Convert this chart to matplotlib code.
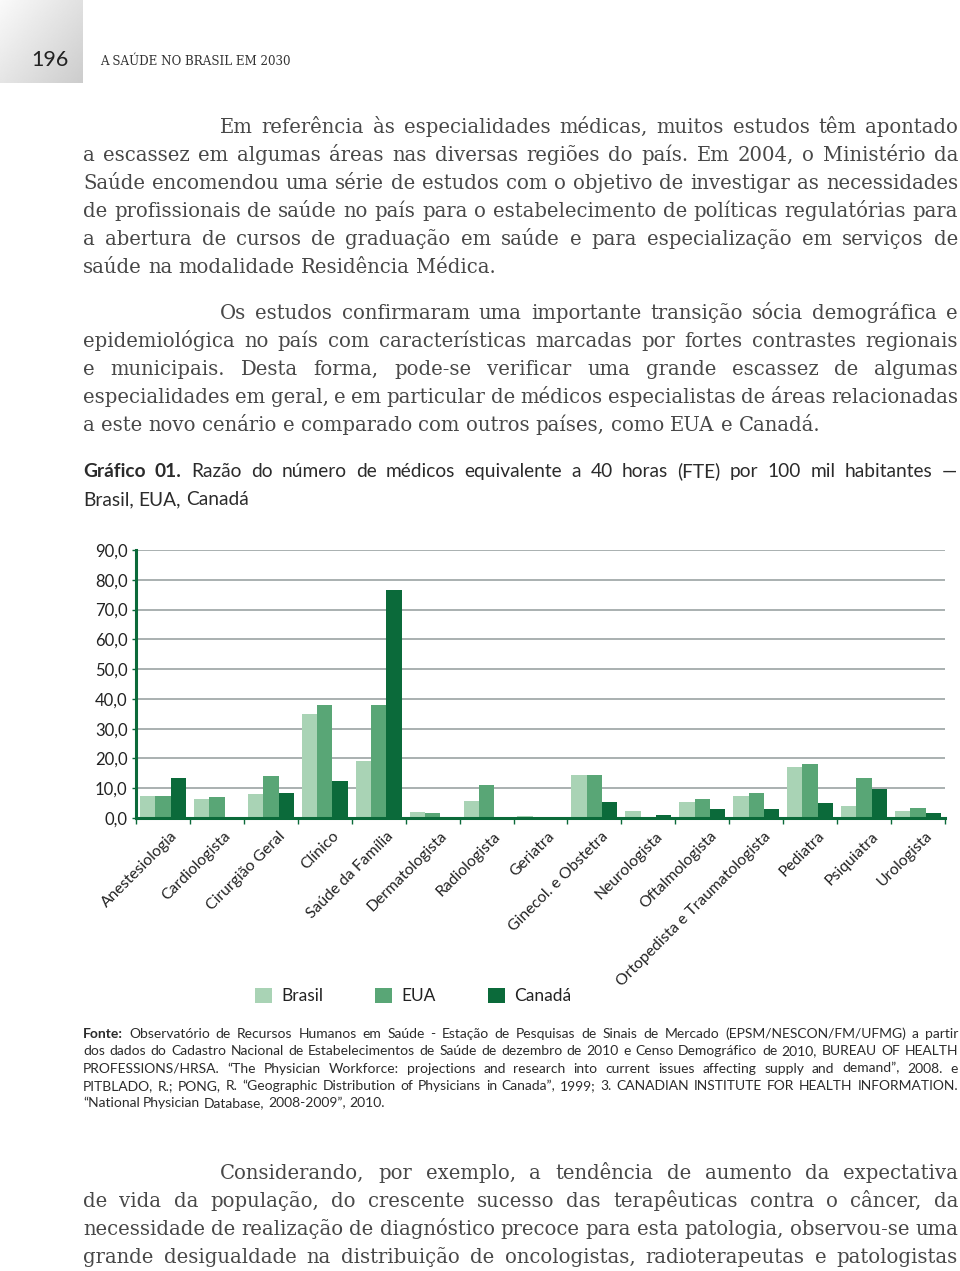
import numpy as np
import matplotlib
matplotlib.use("Agg")
import matplotlib.pyplot as plt
from matplotlib.transforms import ScaledTranslation
from matplotlib.patches import Patch

# ---------------- data ----------------
categories = ["Anestesiologia", "Cardiologista", "Cirurgião Geral", "Clínico",
              "Saúde da Família", "Dermatologista", "Radiologista", "Geriatra",
              "Ginecol. e Obstetra", "Neurologista", "Oftalmologista",
              "Ortopedista e Traumatologista", "Pediatra", "Psiquiatra", "Urologista"]
brasil = [7.5, 6.4, 8.0, 34.9, 19.2, 1.9, 5.7, 0.8, 14.5, 2.3, 5.5, 7.4, 17.2, 3.9, 2.5]
eua    = [7.3, 7.0, 14.0, 37.9, 37.9, 1.6, 11.0, 0.0, 14.4, 0.0, 6.4, 8.3, 18.1, 13.5, 3.4]
canada = [13.4, 0.0, 8.3, 12.3, 76.7, 0.0, 0.0, 0.0, 5.3, 1.0, 3.1, 2.9, 4.9, 9.7, 1.6]
series_names = ["Brasil", "EUA", "Canadá"]
series_colors = ["#a9d3b5", "#59a676", "#0b6a3a"]
yticks = [0, 10, 20, 30, 40, 50, 60, 70, 80, 90]

para1 = [
    "Em referência às especialidades médicas, muitos estudos têm apontado",
    "a escassez em algumas áreas nas diversas regiões do país. Em 2004, o Ministério da",
    "Saúde encomendou uma série de estudos com o objetivo de investigar as necessidades",
    "de profissionais de saúde no país para o estabelecimento de políticas regulatórias para",
    "a abertura de cursos de graduação em saúde e para especialização em serviços de",
    "saúde na modalidade Residência Médica.",
]
para2 = [
    "Os estudos confirmaram uma importante transição sócia demográfica e",
    "epidemiológica no país com características marcadas por fortes contrastes regionais",
    "e municipais. Desta forma, pode-se verificar uma grande escassez de algumas",
    "especialidades em geral, e em particular de médicos especialistas de áreas relacionadas",
    "a este novo cenário e comparado com outros países, como EUA e Canadá.",
]
para3 = [
    "Considerando, por exemplo, a tendência de aumento da expectativa",
    "de vida da população, do crescente sucesso das terapêuticas contra o câncer, da",
    "necessidade de realização de diagnóstico precoce para esta patologia, observou-se uma",
    "grande desigualdade na distribuição de oncologistas, radioterapeutas e patologistas",
]
title_lines = [
    "Gráfico 01. Razão do número de médicos equivalente a 40 horas (FTE) por 100 mil habitantes —",
    "Brasil, EUA, Canadá",
]
source_lines = [
    "Fonte: Observatório de Recursos Humanos em Saúde - Estação de Pesquisas de Sinais de Mercado (EPSM/NESCON/FM/UFMG) a partir",
    "dos dados do Cadastro Nacional de Estabelecimentos de Saúde de dezembro de 2010 e Censo Demográfico de 2010, BUREAU OF HEALTH",
    "PROFESSIONS/HRSA. “The Physician Workforce: projections and research into current issues affecting supply and demand”, 2008. e",
    "PITBLADO, R.; PONG, R. “Geographic Distribution of Physicians in Canada”, 1999; 3. CANADIAN INSTITUTE FOR HEALTH INFORMATION.",
    "“National Physician Database, 2008-2009”, 2010.",
]

# ---------------- figure ----------------
W, H = 960, 1271
fig = plt.figure(figsize=(W / 100, H / 100), dpi=100)
fig.patch.set_facecolor("white")
renderer = fig.canvas.get_renderer()


def px(x, y):
    return x / W, 1 - y / H


def text_width(s, **kw):
    t = fig.text(0, 0, s, **kw)
    w = t.get_window_extent(renderer).width
    t.remove()
    return w


def put_line(s, x0, x1, y, justify=True, nbold=0, **kw):
    words = s.split(" ")
    kws = []
    for i, w in enumerate(words):
        k = dict(kw)
        if i < nbold:
            k["fontweight"] = "bold"
        kws.append(k)
    ws = [text_width(w, **k) for w, k in zip(words, kws)]
    space = text_width("a a", **kw) - 2 * text_width("a", **kw)
    if justify and len(words) > 1:
        gap = (x1 - x0 - sum(ws)) / (len(words) - 1)
    else:
        gap = space
    x = x0
    for w, wd, k in zip(words, ws, kws):
        fig.text(*px(x, y), w, va="baseline", ha="left", **k)
        x += wd + gap


body_kw = dict(family="DejaVu Serif", fontsize=14.1, color="#484848")
L, R = 83, 958
INDENT = 220


def paragraph(lines, y0, last_justified=False):
    for i, ln in enumerate(lines):
        x0 = INDENT if i == 0 else L
        just = (i < len(lines) - 1) or last_justified
        put_line(ln, x0, R, y0 + 28 * i, justify=just, **body_kw)


paragraph(para1, 133)
paragraph(para2, 319)
paragraph(para3, 1179, last_justified=True)

# header
hax = fig.add_axes([0, 1 - 83 / H, 83 / W, 83 / H])
gx, gy = np.meshgrid(np.linspace(0, 1, 100), np.linspace(0, 1, 100))
grad = 0.98 - 0.18 * (0.55 * gx + 0.45 * gy)
hax.imshow(grad, cmap="gray", vmin=0, vmax=1, aspect="auto", interpolation="bilinear")
hax.set_axis_off()
fig.text(*px(50, 60), "196", ha="center", va="center", family="Lato",
         fontsize=15.5, color="#222222")
fig.text(*px(100, 65), "A SAÚDE NO BRASIL EM 2030", ha="left", va="baseline",
         family="DejaVu Serif", fontsize=8.6, color="#333333")

# title
title_kw = dict(family="Lato", fontsize=13.8, color="#2b2b2b")
put_line(title_lines[0], L, 957, 477, justify=True, nbold=2, **title_kw)
put_line(title_lines[1], L, 957, 505, justify=False, **title_kw)

# source
src_kw = dict(family="Lato", fontsize=10.0, color="#2b2b2b")
for i, ln in enumerate(source_lines):
    put_line(ln, L, 958, 1038 + 17.3 * i, justify=(i < len(source_lines) - 1),
             nbold=1 if i == 0 else 0, **src_kw)

# ---------------- chart ----------------
ax_l, ax_r, ax_t, ax_b = 136, 945, 550, 818
ax = fig.add_axes([ax_l / W, 1 - ax_b / H, (ax_r - ax_l) / W, (ax_b - ax_t) / H])
x = np.arange(len(categories))
bw = 0.285
for k, (vals, name, col) in enumerate(zip([brasil, eua, canada], series_names, series_colors)):
    ax.bar(x + (k - 1) * bw, vals, width=bw, color=col, label=name, zorder=3, linewidth=0)

ax.set_xlim(-0.5, len(categories) - 0.5)
ax.set_ylim(0, 90)
ax.set_yticks(yticks)
ax.set_yticklabels([f"{v:.1f}".replace(".", ",") for v in yticks],
                   family="Lato", fontsize=12, color="#222222")
ax.yaxis.grid(True, color="#a9b0b0", linewidth=1.4, zorder=0)
ax.set_axisbelow(True)
for s in ["top", "right"]:
    ax.spines[s].set_visible(False)
for s in ["left", "bottom"]:
    ax.spines[s].set_color("#0b6a3a")
    ax.spines[s].set_linewidth(2.2)
    ax.spines[s].set_zorder(4)
ax.tick_params(axis="y", length=3, width=1, color="#0b6a3a", pad=3)

ax.set_xticks(x)
ax.set_xticklabels(categories, rotation=45, ha="right", va="center",
                   rotation_mode="anchor", family="Lato", fontsize=11.3, color="#222222")
ax.set_xticks(np.arange(-0.5, len(categories)), minor=True)
ax.tick_params(axis="x", which="major", length=0, pad=0)
ax.tick_params(axis="x", which="minor", length=4, width=1, color="#0b6a3a")
off = ScaledTranslation(12 / 100, -16 / 100, fig.dpi_scale_trans)
for lbl in ax.get_xticklabels():
    lbl.set_transform(lbl.get_transform() + off)

handles = [Patch(facecolor=c, edgecolor="none") for c in series_colors]
fig.legend(handles, series_names, loc="center left", bbox_to_anchor=px(255, 996),
           ncol=3, frameon=False, borderpad=0, borderaxespad=0, handlelength=1.0,
           handleheight=1.0, handletextpad=0.5, columnspacing=3.0,
           prop=dict(family="Lato", size=12.5), labelcolor="#222222")

fig.savefig("out.png", dpi=100, facecolor="white")
